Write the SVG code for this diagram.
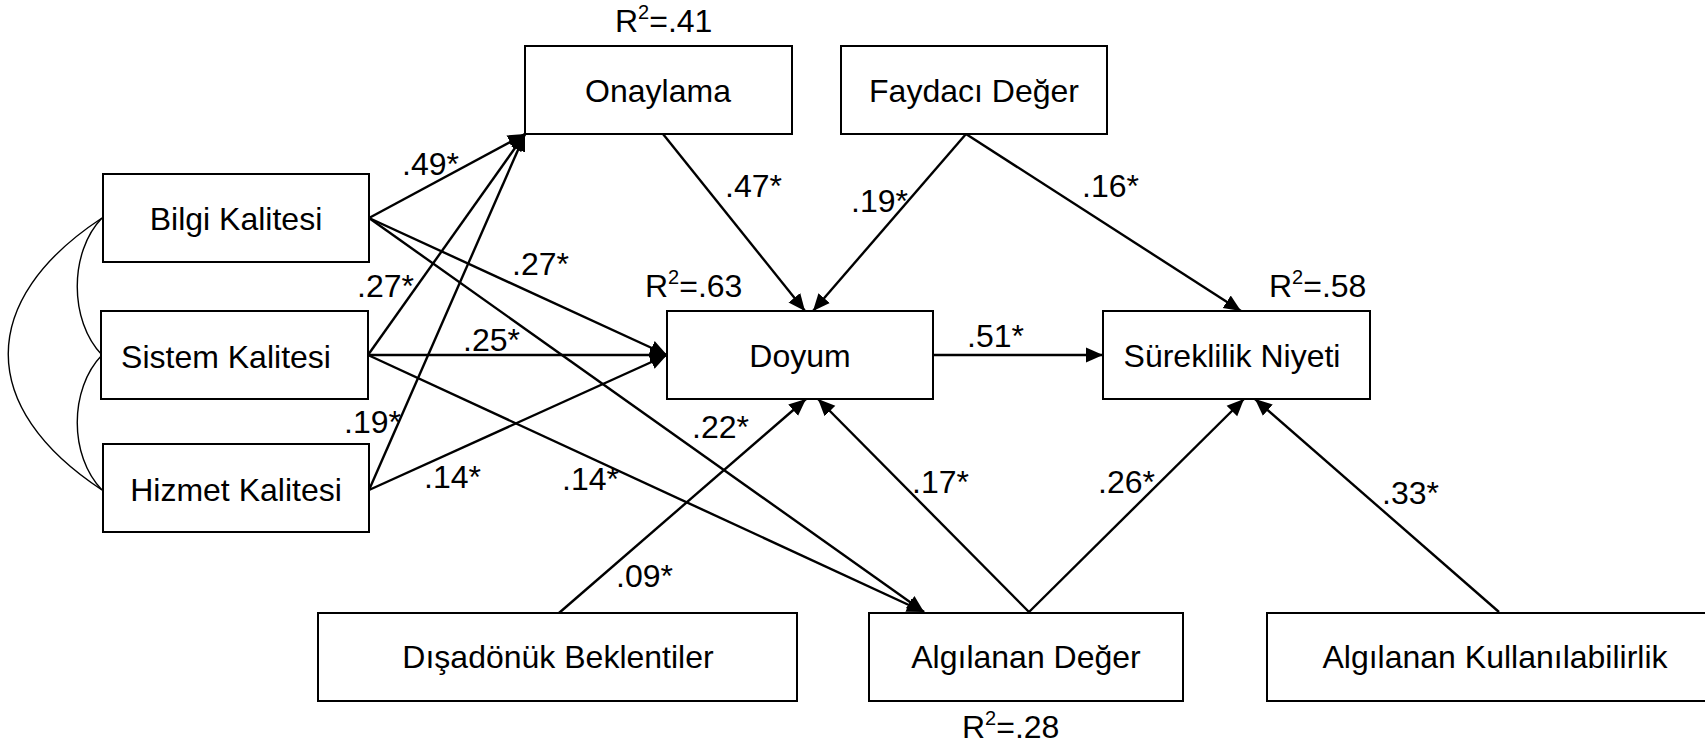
<svg xmlns="http://www.w3.org/2000/svg" width="1705" height="750" viewBox="0 0 1705 750">
<defs>
<style>
text{font-family:"Liberation Sans",Arial,sans-serif;font-size:32px;fill:#000}
.box{fill:#fff;stroke:#000;stroke-width:2}
.c{text-anchor:middle}
.ln{stroke:#000;stroke-width:2.4;fill:none}
.cv{stroke:#000;stroke-width:1.4;fill:none}
.sup{font-size:20px}
</style>
<marker id="ah" markerUnits="userSpaceOnUse" markerWidth="18" markerHeight="16" refX="17" refY="8" orient="auto">
<path d="M0,0.5 L17,8 L0,15.5 z" fill="#000"/>
</marker>
</defs>
<rect width="1705" height="750" fill="#fff"/>

<g id="connectors">
<path class="cv" d="M102,218 C-23,300 -23,408 102,490"/>
<path class="cv" d="M102,218 C69,252 69,321 102,355"/>
<path class="cv" d="M102,355 C69,389 69,456 102,490"/>
<line class="ln" x1="369" y1="218" x2="525" y2="134" marker-end="url(#ah)"/>
<line class="ln" x1="368" y1="355" x2="525" y2="134" marker-end="url(#ah)"/>
<line class="ln" x1="369" y1="490" x2="525" y2="134" marker-end="url(#ah)"/>
<line class="ln" x1="369" y1="218" x2="667" y2="355" marker-end="url(#ah)"/>
<line class="ln" x1="368" y1="355" x2="667" y2="355" marker-end="url(#ah)"/>
<line class="ln" x1="369" y1="490" x2="667" y2="355" marker-end="url(#ah)"/>
<line class="ln" x1="369" y1="218" x2="924" y2="612" marker-end="url(#ah)"/>
<line class="ln" x1="368" y1="355" x2="924" y2="612" marker-end="url(#ah)"/>
<line class="ln" x1="663" y1="134" x2="805" y2="311" marker-end="url(#ah)"/>
<line class="ln" x1="966" y1="134" x2="813" y2="311" marker-end="url(#ah)"/>
<line class="ln" x1="966" y1="134" x2="1241" y2="311" marker-end="url(#ah)"/>
<line class="ln" x1="933" y1="355" x2="1103" y2="355" marker-end="url(#ah)"/>
<line class="ln" x1="559" y1="613" x2="806" y2="399" marker-end="url(#ah)"/>
<line class="ln" x1="1029" y1="612" x2="818" y2="399" marker-end="url(#ah)"/>
<line class="ln" x1="1029" y1="612" x2="1244" y2="399" marker-end="url(#ah)"/>
<line class="ln" x1="1499" y1="612" x2="1255" y2="399" marker-end="url(#ah)"/>
</g>

<g id="labels">
<text x="402" y="175">.49*</text>
<text x="512" y="275">.27*</text>
<text x="357" y="297">.27*</text>
<text x="463" y="351">.25*</text>
<text x="344" y="433">.19*</text>
<text x="424" y="488">.14*</text>
<text x="562" y="490">.14*</text>
<text x="692" y="438">.22*</text>
<text x="616" y="587">.09*</text>
<text x="912" y="493">.17*</text>
<text x="1098" y="493">.26*</text>
<text x="1382" y="504">.33*</text>
<text x="725" y="197">.47*</text>
<text x="851" y="212">.19*</text>
<text x="1082" y="197">.16*</text>
<text x="967" y="347">.51*</text>
<text x="615" y="32">R<tspan class="sup" dy="-13">2</tspan><tspan dy="13">=.41</tspan></text>
<text x="645" y="297">R<tspan class="sup" dy="-13">2</tspan><tspan dy="13">=.63</tspan></text>
<text x="1269" y="297">R<tspan class="sup" dy="-13">2</tspan><tspan dy="13">=.58</tspan></text>
<text x="962" y="738">R<tspan class="sup" dy="-13">2</tspan><tspan dy="13">=.28</tspan></text>
</g>

<g id="onaylama"><rect class="box" x="525" y="46" width="267" height="88"/><text class="c" x="658" y="102">Onaylama</text></g>
<g id="faydaci"><rect class="box" x="841" y="46" width="266" height="88"/><text class="c" x="974" y="102">Faydacı Değer</text></g>
<g id="bilgi"><rect class="box" x="103" y="174" width="266" height="88"/><text class="c" x="236" y="230">Bilgi Kalitesi</text></g>
<g id="sistem"><rect class="box" x="101" y="311" width="267" height="88"/><text class="c" x="226" y="368">Sistem Kalitesi</text></g>
<g id="hizmet"><rect class="box" x="103" y="444" width="266" height="88"/><text class="c" x="236" y="501">Hizmet Kalitesi</text></g>
<g id="doyum"><rect class="box" x="667" y="311" width="266" height="88"/><text class="c" x="800" y="367">Doyum</text></g>
<g id="sureklilik"><rect class="box" x="1103" y="311" width="267" height="88"/><text class="c" x="1232" y="367">Süreklilik Niyeti</text></g>
<g id="disadonuk"><rect class="box" x="318" y="613" width="479" height="88"/><text class="c" x="558" y="668">Dışadönük Beklentiler</text></g>
<g id="algilanan-deger"><rect class="box" x="869" y="613" width="314" height="88"/><text class="c" x="1026" y="668">Algılanan Değer</text></g>
<g id="algilanan-kullanilabilirlik"><rect class="box" x="1267" y="613" width="460" height="88"/><text class="c" x="1495" y="668">Algılanan Kullanılabilirlik</text></g>
</svg>
